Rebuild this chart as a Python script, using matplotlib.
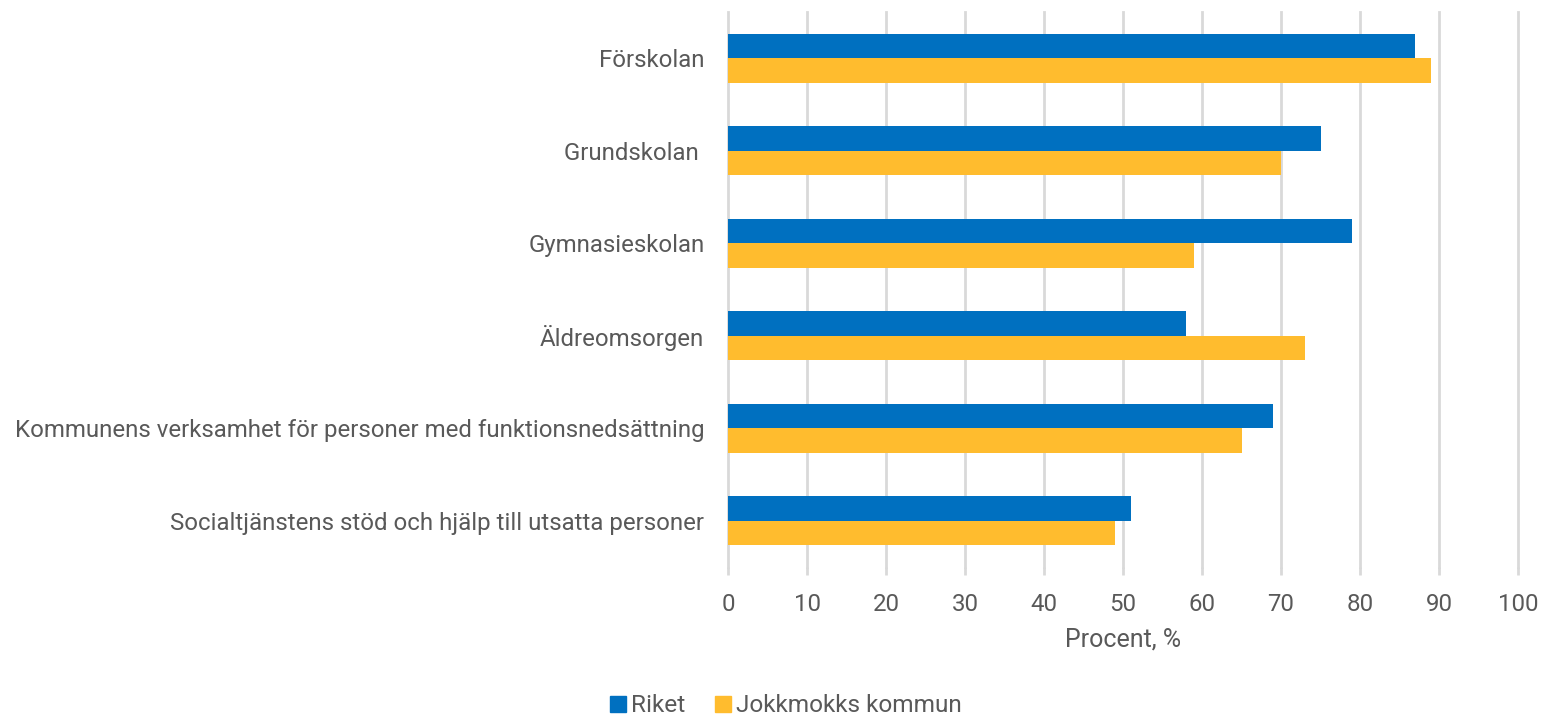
import numpy as np
import matplotlib
matplotlib.use("Agg")
import matplotlib.pyplot as plt
from matplotlib.patches import Patch

plt.rcParams["font.family"] = ["Roboto", "DejaVu Sans"]

categories = ["Förskolan", "Grundskolan ", "Gymnasieskolan", "Äldreomsorgen",
              "Kommunens verksamhet för personer med funktionsnedsättning",
              "Socialtjänstens stöd och hjälp till utsatta personer"]
riket = [87, 75, 79, 58, 69, 51]
jokkmokk = [89, 70, 59, 73, 65, 49]
series_names = ["Riket", "Jokkmokks kommun"]
xticks = list(range(0, 101, 10))

BLUE = "#0070C0"
YELLOW = "#FFBC2E"
GREY = "#595959"
FS = 17.3

fig = plt.figure(figsize=(15.43, 7.18), dpi=100)
ax = fig.add_axes([728 / 1543, 1 - 567 / 718, 790 / 1543, 555 / 718])

y = np.arange(len(categories))
h = 0.265
ax.barh(y - h / 2, riket, h, color=BLUE, zorder=3)
ax.barh(y + h / 2, jokkmokk, h, color=YELLOW, zorder=3)

ax.set_ylim(len(categories) - 0.5, -0.5)
ax.set_xlim(0, 100)
ax.set_xticks(xticks)
ax.set_yticks(y)
ax.set_yticklabels(categories)
ax.grid(axis="x", color="#D9D9D9", lw=2, zorder=0)
for gl in ax.get_xgridlines():
    gl.set_clip_on(False)
for s in ax.spines.values():
    s.set_visible(False)
ax.tick_params(axis="x", length=6, width=2, color="#D9D9D9", colors=GREY, labelsize=FS, pad=13)
ax.tick_params(axis="y", length=0, colors=GREY, labelsize=FS, pad=17)
ax.set_xlabel("Procent, %", color=GREY, fontsize=18, labelpad=8)

handles = [Patch(color=BLUE), Patch(color=YELLOW)]
fig.legend(handles, series_names, loc="center", bbox_to_anchor=(786 / 1543, 1 - 706 / 718),
           ncol=2, frameon=False, fontsize=17.6, labelcolor=GREY, handlelength=0.66,
           handleheight=0.66, handletextpad=0.2, columnspacing=1.2)

fig.savefig("out.png", dpi=100)
